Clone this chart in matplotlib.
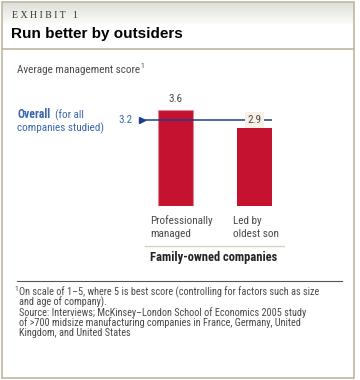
import numpy as np
import matplotlib.pyplot as plt
from matplotlib.patches import Rectangle
from matplotlib.lines import Line2D

categories = ['Professionally\nmanaged', 'Led by\noldest son']
scores = [3.6, 2.9]
overall = 3.2
group_label = 'Family-owned companies'
footnote = ['On scale of 1\u20135, where 5 is best score (controlling for '
            'factors such as size', 'and age of company).']
source = ['Source: Interviews; McKinsey\u2013London School of Economics 2005 '
          'study', 'of >700 midsize manufacturing companies in France, '
          'Germany, United', 'Kingdom, and United States']

W, H = 360, 380
RED = '#C41230'
NAVY = '#1B3F8A'
BLUE = '#3A67AE'
GREY = '#4A4A4A'
FRAME = '#BDB8A2'
NARROW = ['Roboto Condensed', 'DejaVu Sans']


def fx(x):
    return x / W


def fy(y):
    return 1 - y / H


fig = plt.figure(figsize=(W / 100, H / 100), dpi=100)
fig.patch.set_facecolor('white')

# header gradient band
grad = np.linspace(0.88, 1.0, 50).reshape(-1, 1)
hax = fig.add_axes([fx(2), fy(24), fx(352), 22 / H])
hax.imshow(np.dstack([grad * 0.99, grad * 0.99, grad * 0.97]), aspect='auto',
           extent=[0, 1, 0, 1])
hax.axis('off')

# frame
fig.add_artist(Rectangle((fx(2), fy(378)), fx(352), 376 / H, fill=False,
                         edgecolor=FRAME, lw=1.2, transform=fig.transFigure))
fig.add_artist(Line2D([fx(2), fx(354)], [fy(48.5), fy(48.5)], color=FRAME,
                      lw=1.2, transform=fig.transFigure))

fig.text(fx(12), fy(15), 'E X H I B I T   1', family='Liberation Serif',
         fontsize=7, color='#333333', va='center')
fig.text(fx(11), fy(34), 'Run better by outsiders', family='Liberation Sans',
         fontsize=11, weight='bold', color='black', va='center')

sub = fig.text(fx(17), fy(70), 'Average management score', family=NARROW,
               fontsize=8, color=GREY, va='center')

# bar chart axes: baseline at y=206px, 26.8 px per unit
scale = 26.8
ymax = 4.0
xpx0, xpx1 = 120, 300
step = 79.5
ax = fig.add_axes([fx(xpx0), fy(206), fx(xpx1 - xpx0), ymax * scale / H])
x = np.arange(len(scores))
ax.set_xlim((xpx0 - 175) / step, (xpx1 - 175) / step)
ax.set_ylim(0, ymax)
bars = ax.bar(x, scores, width=35 / step, color=RED, zorder=2)
bars[0].set_edgecolor('#E58592')
bars[0].set_linewidth(0.8)
ax.axis('off')

ax.annotate('1', xy=(1, 1), xycoords=sub, xytext=(0.3, 1.5),
            textcoords='offset points', family=NARROW, fontsize=5.5,
            color=GREY, va='top', ha='left')

# overall line with arrow
xl0, xl1 = (142 - 175) / step, (272 - 175) / step
ax.plot([xl0, xl1], [overall, overall], color=NAVY, lw=1.1, zorder=3,
        solid_capstyle='butt')
ax.plot([xl0], [overall], marker='>', color=NAVY, ms=5, zorder=4)
ax.text((133 - 175) / step, overall, f'{overall}', family=NARROW, fontsize=8,
        color=BLUE, ha='right', va='center')

ax.text(x[0], scores[0] + 0.2, f'{scores[0]}', family=NARROW, fontsize=8,
        color=GREY, ha='center', va='bottom')
ax.text(x[1], overall, f'{scores[1]}', family=NARROW, fontsize=8,
        color=GREY, ha='center', va='center', zorder=5,
        bbox=dict(boxstyle='square,pad=0.25', fc='#F6F0E7', ec='none'))

fig.text(fx(17), fy(115), 'Overall', family=NARROW, fontsize=8.5,
         weight='bold', color=BLUE, va='center')
fig.text(fx(55), fy(115), '(for all', family=NARROW, fontsize=8,
         color=BLUE, va='center')
fig.text(fx(17), fy(128), 'companies studied)', family=NARROW, fontsize=8,
         color=BLUE, va='center')

# category labels
for xi, lab in zip(x, categories):
    xp = 150 + xi * 83
    for j, line in enumerate(lab.split('\n')):
        fig.text(fx(xp), fy(221 + 13 * j), line, family=NARROW, fontsize=8,
                 color=GREY, va='center')

fig.add_artist(Line2D([fx(145), fx(284)], [fy(246), fy(246)], color='#D8D2C4',
                      lw=1, transform=fig.transFigure))
fig.text(fx(150), fy(257), group_label, family=NARROW, fontsize=9,
         weight='bold', color='#222222', va='center')

# footnotes
fig.add_artist(Line2D([fx(17), fx(342)], [fy(281), fy(281)], color='#555555',
                      lw=0.8, transform=fig.transFigure))
fig.text(fx(14), fy(289), '1', family=NARROW, fontsize=5.5, color=GREY,
         va='center')
for j, line in enumerate(footnote):
    fig.text(fx(19), fy(292 + 10 * j), line, family=NARROW, fontsize=7.4,
             color=GREY, va='center')
for j, line in enumerate(source):
    fig.text(fx(19), fy(313 + 10 * j), line, family=NARROW, fontsize=7.4,
             color=GREY, va='center')

fig.savefig('out.png', dpi=100, facecolor='white')
